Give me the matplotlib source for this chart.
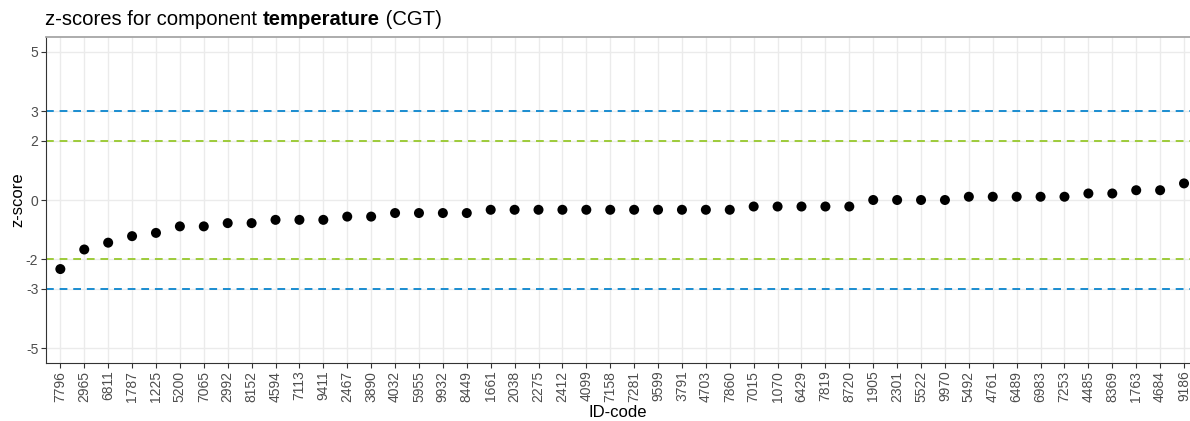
#!/usr/bin/python3
#
# z-score plot per participant for one component

import numpy as np
import matplotlib
matplotlib.use('Agg')
import matplotlib.pyplot as plt

#
component = 'temperature'
comp_code = 'CGT'

id_codes = ['7796', '2965', '6811', '1787', '1225', '5200', '7065', '2992',
	'8152', '4594', '7113', '9411', '2467', '3890', '4032', '5955',
	'9932', '8449', '1661', '2038', '2275', '2412', '4099', '7158',
	'7281', '9599', '3791', '4703', '7860', '7015', '1070', '6429',
	'7819', '8720', '1905', '2301', '5522', '9970', '5492', '4761',
	'6489', '6983', '7253', '4485', '8369', '1763', '4684', '9186']

z_scores = [-2.33, -1.67, -1.44, -1.22, -1.11, -0.89, -0.89, -0.78,
	-0.78, -0.67, -0.67, -0.67, -0.56, -0.56, -0.44, -0.44,
	-0.44, -0.44, -0.33, -0.33, -0.33, -0.33, -0.33, -0.33,
	-0.33, -0.33, -0.33, -0.33, -0.33, -0.22, -0.22, -0.22,
	-0.22, -0.22, 0.0, 0.0, 0.0, 0.0, 0.11, 0.11,
	0.11, 0.11, 0.11, 0.22, 0.22, 0.33, 0.33, 0.56]

y_breaks = [-5, -3, -2, 0, 2, 3, 5]
warn_limit = 2
action_limit = 3

#
col_warn = '#9dcb3a'
col_action = '#1a8dd0'
col_axis = '#333333'
col_text = '#4d4d4d'
col_grid = '#ebebeb'

plt.rcParams['font.family'] = ['Liberation Sans', 'DejaVu Sans']

W, H = 1190, 421
fig = plt.figure(figsize=(W / 100, H / 100), dpi=100)

# panel runs from x=46 to the right edge, y=37..363 (pixels from top)
ax = fig.add_axes([46 / W, (H - 363) / H, (W - 46) / W, 326 / H])

x = np.arange(len(id_codes))

# reference lines
for lim, col in [(action_limit, col_action), (warn_limit, col_warn)]:
	ax.axhline(lim, color=col, lw=1.4, linestyle=(0, (4, 3)), zorder=2)
	ax.axhline(-lim, color=col, lw=1.4, linestyle=(0, (4, 3)), zorder=2)

ax.scatter(x, z_scores, s=52, color='black', edgecolors='none', zorder=3)

ax.set_xlim(-0.6, len(id_codes) - 1 + 0.25)
ax.set_ylim(-5.5, 5.5)

ax.set_xticks(x)
ax.set_xticklabels(id_codes, rotation=90)
ax.set_yticks(y_breaks)
ax.set_yticklabels([str(v) for v in y_breaks])

ax.grid(True, color=col_grid, lw=1.0, zorder=0)
ax.set_axisbelow(True)

ax.tick_params(axis='both', length=3.5, width=0.8, color=col_axis,
	labelcolor=col_text, labelsize=10, pad=2)

for side in ['left', 'bottom']:
	ax.spines[side].set_color(col_axis)
	ax.spines[side].set_linewidth(0.8)
ax.spines['top'].set_color('#a6a6a6')
ax.spines['top'].set_linewidth(1.3)
ax.spines['right'].set_visible(False)

ax.set_xlabel('ID-code', fontsize=12, color='black', labelpad=2)
ax.set_ylabel('z-score', fontsize=12, color='black', labelpad=0)

# title with the component name in bold
ty = 1 - 25 / H
renderer = fig.canvas.get_renderer()
t1 = fig.text(45 / W, ty, 'z-scores for component ', fontsize=14.6, ha='left', va='baseline')
bb = t1.get_window_extent(renderer)
t2 = fig.text(bb.x1 / W, ty, component, fontsize=14.6, fontweight='bold', ha='left', va='baseline')
bb2 = t2.get_window_extent(renderer)
fig.text(bb2.x1 / W, ty, ' (' + comp_code + ')', fontsize=14.6, ha='left', va='baseline')

plt.savefig('out.png', dpi=100)
